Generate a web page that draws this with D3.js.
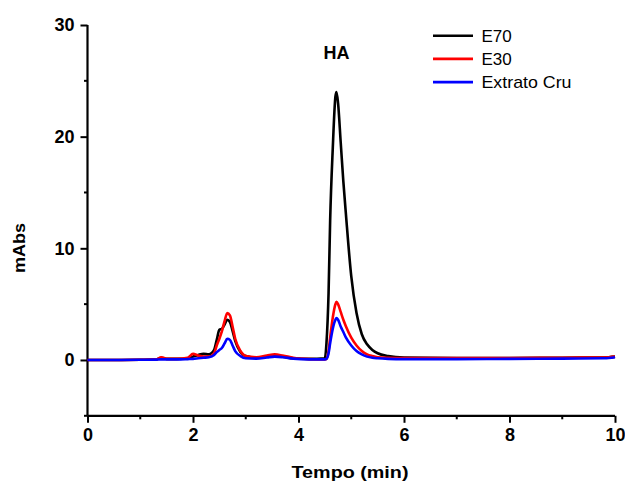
<!DOCTYPE html>
<html>
<head>
<meta charset="utf-8">
<script src="https://cdn.jsdelivr.net/npm/d3@7"></script>
<style>
  body { margin: 0; background: #fff; }
  svg { display: block; font-family: "Liberation Sans", Arial, sans-serif; }
</style>
</head>
<body>
<div id="chart"></div>
<script>
// retention time (min)
var tempo = [0, 0.5, 1.0, 1.3, 1.4, 1.5, 1.7, 1.9,
  2.0, 2.1, 2.2, 2.3, 2.4, 2.45, 2.5, 2.55, 2.6, 2.65, 2.7, 2.75, 2.8, 2.9,
  3.0, 3.2, 3.4, 3.55, 3.7, 3.9,
  4.2, 4.5, 4.53, 4.57, 4.6, 4.65, 4.7, 4.72, 4.75, 4.8, 4.85, 4.9,
  5.0, 5.1, 5.2, 5.3, 5.4, 5.5, 5.7,
  6.0, 7.0, 8.0, 9.0, 9.8, 10.0];

var e70 = [0, 0, 0.02, 0.05, 0.2, 0.1, 0.1, 0.15,
  0.3, 0.45, 0.55, 0.5, 0.9, 1.8, 2.7, 2.8, 3.2, 3.6, 3.4, 2.6, 1.7, 0.7,
  0.35, 0.2, 0.3, 0.38, 0.3, 0.15,
  0.1, 0.15, 1.5, 6, 12.5, 19, 23.6, 24, 23, 19.5, 16, 13,
  7.5, 4.2, 2.3, 1.4, 0.9, 0.6, 0.35,
  0.22, 0.18, 0.18, 0.2, 0.22, 0.3];

var e30 = [0, 0, 0.02, 0.05, 0.25, 0.1, 0.1, 0.2,
  0.55, 0.4, 0.3, 0.3, 0.6, 1.3, 1.9, 2.6, 3.5, 4.2, 4.0, 3.0, 1.9, 0.8,
  0.35, 0.25, 0.4, 0.5, 0.4, 0.2,
  0.08, 0.05, 0.1, 0.8, 2.0, 3.8, 5.0, 5.2, 5.0, 4.3, 3.6, 3.0,
  2.0, 1.3, 0.8, 0.5, 0.35, 0.25, 0.2,
  0.18, 0.18, 0.18, 0.2, 0.22, 0.3];

var extratoCru = [0, 0, 0.02, 0.03, 0.05, 0.05, 0.05, 0.08,
  0.1, 0.15, 0.2, 0.25, 0.45, 0.7, 0.9, 1.1, 1.5, 1.9, 1.8, 1.3, 0.8, 0.35,
  0.15, 0.12, 0.22, 0.3, 0.25, 0.12,
  0.05, 0.05, 0.1, 0.6, 1.5, 2.8, 3.6, 3.75, 3.6, 3.0, 2.5, 2.0,
  1.3, 0.8, 0.5, 0.3, 0.2, 0.15, 0.1,
  0.08, 0.08, 0.1, 0.12, 0.15, 0.25];

var seriesNames = ["E70", "E30", "Extrato Cru"];
var seriesValues = [e70, e30, extratoCru];
var seriesColors = ["#000000", "#ff0000", "#0000ff"];

var xTicks = [0, 2, 4, 6, 8, 10];
var xMinor = [1, 3, 5, 7, 9];
var yTicks = [0, 10, 20, 30];
var yMinor = [-5, 5, 15, 25];

var width = 625, height = 483;
var plotLeft = 87.5, plotRight = 615, plotTop = 25, plotBottom = 415.8;

var svg = d3.select("#chart").append("svg")
  .attr("width", width).attr("height", height);

var x = d3.scaleLinear().domain([0, 10]).range([plotLeft, plotRight]);
var y = d3.scaleLinear().domain([-5, 30]).range([plotBottom, plotTop]);

// axes
var xAxis = d3.axisBottom(x).tickValues(xTicks).tickSize(7).tickPadding(5)
  .tickFormat(d3.format("d"));
var gx = svg.append("g").attr("transform", "translate(0," + plotBottom + ")").call(xAxis);
xMinor.forEach(function(d) {
  gx.append("line").attr("x1", x(d)).attr("x2", x(d)).attr("y1", 0).attr("y2", 3.5)
    .attr("stroke", "#000").attr("stroke-width", 2);
});

var yAxis = d3.axisLeft(y).tickValues(yTicks).tickSize(7).tickPadding(6)
  .tickFormat(d3.format("d"));
var gy = svg.append("g").attr("transform", "translate(" + plotLeft + ",0)").call(yAxis);
yMinor.forEach(function(d) {
  gy.append("line").attr("y1", y(d)).attr("y2", y(d)).attr("x1", 0).attr("x2", -3.5)
    .attr("stroke", "#000").attr("stroke-width", 2);
});

gx.select(".domain").attr("d", "M" + plotLeft + ",0H" + plotRight);
gy.select(".domain").attr("d", "M0," + plotBottom + "V" + plotTop);
[gx, gy].forEach(function(g) {
  g.select(".domain").attr("stroke-width", 2.2);
  g.selectAll(".tick line").attr("stroke-width", 2);
  g.selectAll(".tick text").attr("font-size", 18).attr("font-weight", "bold")
    .attr("fill", "#000").attr("font-family", "Liberation Sans, Arial, sans-serif");
});

// traces
var line = d3.line()
  .x(function(d, i) { return x(tempo[i]); })
  .y(function(d) { return y(d); })
  .curve(d3.curveMonotoneX);

svg.selectAll("path.trace")
  .data(seriesValues)
  .enter()
  .append("path")
  .attr("class", "trace")
  .attr("d", line)
  .attr("fill", "none")
  .attr("stroke", function(d, i) { return seriesColors[i]; })
  .attr("stroke-width", 2.6)
  .attr("stroke-linejoin", "round");

// peak label
svg.append("text").text("HA")
  .attr("x", x(4.72)).attr("y", 59)
  .attr("text-anchor", "middle").attr("font-size", 18).attr("font-weight", "bold");

// legend
var legend = svg.selectAll("g.legend")
  .data(seriesNames)
  .enter()
  .append("g")
  .attr("class", "legend")
  .attr("transform", function(d, i) { return "translate(433," + (35.7 + i * 23.2) + ")"; });
legend.append("line").attr("x1", 0).attr("x2", 40)
  .attr("stroke", function(d, i) { return seriesColors[i]; }).attr("stroke-width", 2.6);
legend.append("text").text(function(d) { return d; })
  .attr("x", 48.5).attr("dy", "0.36em").attr("font-size", 17)
  .attr("textLength", function(d) { return d === "Extrato Cru" ? 90 : null; })
  .attr("lengthAdjust", "spacingAndGlyphs");

// axis titles
svg.append("text").text("Tempo (min)")
  .attr("x", 350).attr("y", 477.5)
  .attr("text-anchor", "middle").attr("font-size", 16).attr("font-weight", "bold")
  .attr("textLength", 117).attr("lengthAdjust", "spacingAndGlyphs");
svg.append("text").text("mAbs")
  .attr("transform", "translate(25,248) rotate(-90)")
  .attr("text-anchor", "middle").attr("font-size", 17).attr("font-weight", "bold")
  .attr("textLength", 50).attr("lengthAdjust", "spacingAndGlyphs");
</script>
</body>
</html>
